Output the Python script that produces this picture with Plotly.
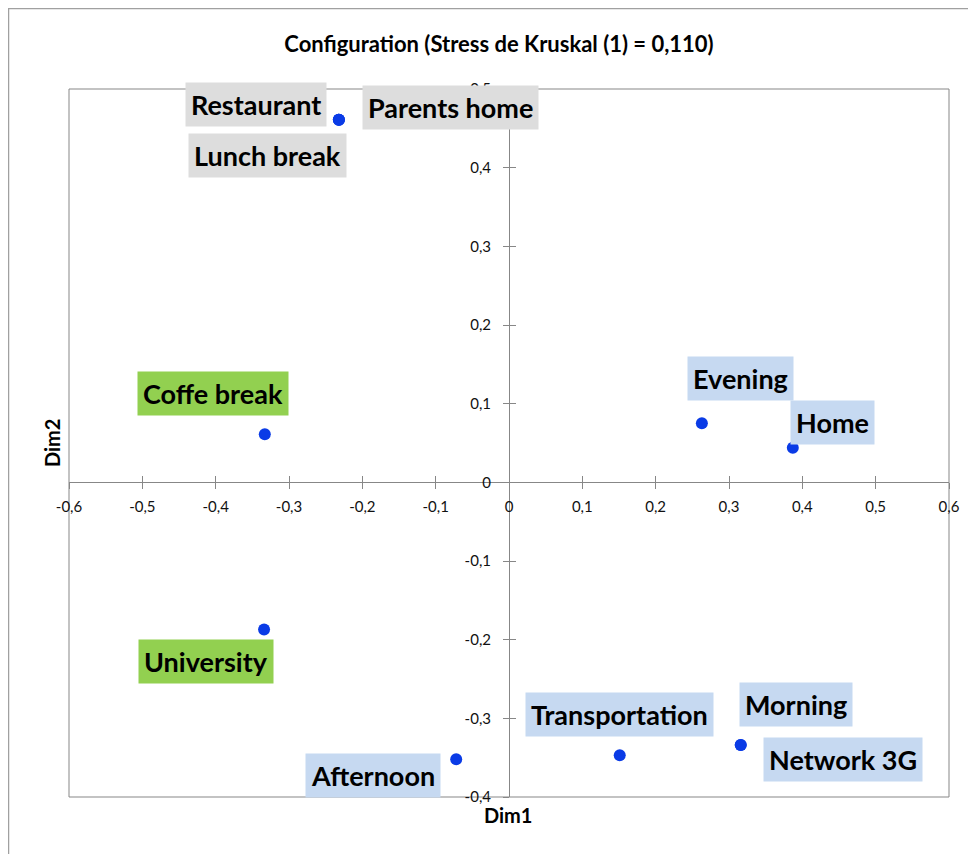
import plotly.graph_objects as go

# dados da configuracao MDS
rotulos = ["Restaurant", "Parents home", "Lunch break", "Coffe break", "University",
           "Evening", "Home", "Afternoon", "Transportation", "Morning", "Network 3G"]
dim1 = [-0.232, -0.232, -0.232, -0.333, -0.334, 0.263, 0.387, -0.072, 0.151, 0.316, 0.316]
dim2 = [0.461, 0.461, 0.461, 0.061, -0.187, 0.075, 0.044, -0.352, -0.347, -0.334, -0.334]
grupos = ["cinza", "cinza", "cinza", "verde", "verde",
          "azul", "azul", "azul", "azul", "azul", "azul"]

ticks_x = [-0.6, -0.5, -0.4, -0.3, -0.2, -0.1, 0, 0.1, 0.2, 0.3, 0.4, 0.5, 0.6]
ticks_y = [-0.4, -0.3, -0.2, -0.1, 0, 0.1, 0.2, 0.3, 0.4, 0.5]

# deslocamento (px) de cada rotulo em relacao ao ponto
desloc = {
    "Restaurant": (-83, 15),
    "Parents home": (112, 12),
    "Lunch break": (-71, -36),
    "Coffe break": (-52, 41),
    "University": (-58, -32),
    "Evening": (39, 45),
    "Home": (40, 25),
    "Afternoon": (-83, -16),
    "Transportation": (0, 41),
    "Morning": (55, 41),
    "Network 3G": (102, -14),
}
cores = {"cinza": "#DDDDDD", "verde": "#92D050", "azul": "#C6D9F1"}

FONTE = "Lato"
CINZA = "#878787"
# a pagina tem margem de 8px no body
ML, MT = 61, 81
LARG = 880


def rotulo_tick(v):
    if v == 0:
        return "0"
    return ("%.1f" % v).replace(".", ",")


fig = go.Figure()

fig.add_trace(go.Scatter(
    x=dim1, y=dim2, mode="markers",
    marker=dict(color="#0A3BE6", size=12),
    hoverinfo="skip", showlegend=False
))
# traco invisivel so para desenhar os eixos sobrepostos (ticks cruzados)
fig.add_trace(go.Scatter(
    x=dim1, y=dim2, mode="markers", xaxis="x2", yaxis="y2",
    marker=dict(opacity=0), hoverinfo="skip", showlegend=False
))

for nome, x, y, g in zip(rotulos, dim1, dim2, grupos):
    dx, dy = desloc[nome]
    fig.add_annotation(
        x=x, y=y, text="<b>" + nome + "</b>", showarrow=False,
        xshift=dx, yshift=dy, bgcolor=cores[g], borderpad=5,
        font=dict(family=FONTE, size=27, color="black")
    )

pos_x = 0.4 / 0.9
eixo_comum = dict(
    anchor="free", showline=True, linecolor=CINZA, linewidth=1, automargin=False,
    showgrid=False, zeroline=False, tickcolor=CINZA, ticklen=6,
)
fig.update_layout(
    width=976, height=854,
    margin=dict(l=ML, r=976 - ML - LARG, t=MT, b=65),
    paper_bgcolor="white", plot_bgcolor="white",
    font=dict(family=FONTE, color="black"),
    title=dict(text="<b>Configuration (Stress de Kruskal (1) = 0,110)</b>",
               x=491 / 976, xanchor="center", y=1 - 36 / 854, yanchor="middle",
               font=dict(family=FONTE, size=22, color="black")),
    xaxis=dict(range=[-0.6, 0.6], position=pos_x, ticks="outside",
               tickvals=ticks_x, ticktext=[rotulo_tick(v) for v in ticks_x],
               tickfont=dict(size=15, color="#111"), ticklabelstandoff=5,
               **eixo_comum),
    yaxis=dict(range=[-0.4, 0.5], position=0.5, ticks="outside",
               tickvals=ticks_y, ticktext=[rotulo_tick(v) for v in ticks_y],
               tickfont=dict(size=15, color="#111"), ticklabelstandoff=9,
               **eixo_comum),
    xaxis2=dict(range=[-0.6, 0.6], overlaying="x", position=pos_x, ticks="inside",
                tickvals=ticks_x, showticklabels=False, **eixo_comum),
    yaxis2=dict(range=[-0.4, 0.5], overlaying="y", position=0.5, ticks="inside",
                tickvals=ticks_y, showticklabels=False, **eixo_comum),
    showlegend=False,
)

# moldura da area de plotagem e do grafico
fig.add_shape(type="rect", xref="paper", yref="paper", x0=0, x1=1, y0=0, y1=1,
              line=dict(color=CINZA, width=1), layer="below")
fig.add_shape(type="rect", xref="paper", yref="paper",
              x0=(0.5 - ML) / LARG, x1=1.2, y0=-0.3, y1=(708 + MT - 0.5) / 708,
              line=dict(color="#A0A0A0", width=1.5), layer="below")

fig.add_annotation(text="<b>Dim1</b>", xref="paper", yref="paper",
                   x=(508 - 69) / LARG, y=(797 - 815) / 708, showarrow=False,
                   xanchor="center", yanchor="middle",
                   font=dict(family=FONTE, size=20, color="black"))
fig.add_annotation(text="<b>Dim2</b>", xref="paper", yref="paper",
                   x=(52 - 69) / LARG, y=(797 - 443) / 708, showarrow=False,
                   xanchor="center", yanchor="middle", textangle=-90,
                   font=dict(family=FONTE, size=20, color="black"))

fig.write_html("out.html")
